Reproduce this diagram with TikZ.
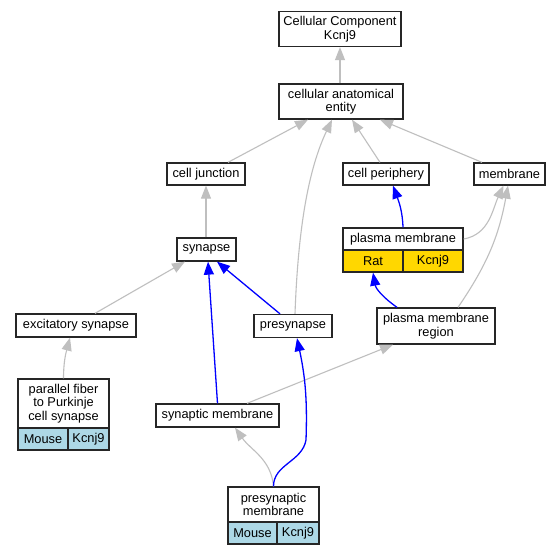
\documentclass[tikz,border=0pt]{standalone}
\usepackage{fontspec}
\setmainfont{Liberation Sans}
\usetikzlibrary{arrows.meta}

\definecolor{ratgold}{HTML}{FFD700}
\definecolor{mouseblue}{HTML}{ADD8E6}

\tikzset{
  term/.style={draw=black!85, line width=1.3pt, fill=white, inner sep=0pt,
    align=center, font=\fontsize{12.8}{13.5}\selectfont},
  ratcell/.style={term, fill=ratgold},
  mousecell/.style={term, fill=mouseblue},
  isa/.style={draw=black!25, line width=1.1pt, -{Triangle[length=13pt,width=10pt]}},
  partof/.style={draw=blue, line width=1.3pt, -{Triangle[length=13pt,width=10pt]}},
}

\begin{document}
\begin{tikzpicture}[x=1pt,y=-1pt]
\fill[white] (0,0) rectangle (560,555);
\useasboundingbox (0,0) rectangle (560,555);

% terms
\node[term, minimum width=122pt, minimum height=35pt] (cc) at (340,29) {Cellular Component\\Kcnj9};
\node[term, minimum width=124pt, minimum height=35pt] (cae) at (341,101.5) {cellular anatomical\\entity};
\node[term, minimum width=78pt, minimum height=22pt] (cj) at (206,174) {cell junction};
\node[term, minimum width=86pt, minimum height=22pt] (cp) at (386,174) {cell periphery};
\node[term, minimum width=71pt, minimum height=22pt] (mem) at (509.5,174) {membrane};
\node[term, minimum width=59pt, minimum height=23pt] (syn) at (206.5,249.5) {synapse};
\node[term, minimum width=78pt, minimum height=23pt] (ps) at (293,326) {presynapse};
\node[term, minimum width=118pt, minimum height=36pt] (pmr) at (436,326) {plasma membrane\\region};
\node[term, minimum width=120pt, minimum height=23pt] (exc) at (76,325.5) {excitatory synapse};
\node[term, minimum width=123pt, minimum height=23pt] (sm) at (217.5,415.5) {synaptic membrane};

% annotated terms
\node[term, minimum width=120pt, minimum height=22pt] (pm) at (403,239) {plasma membrane};
\node[ratcell, minimum width=60pt, minimum height=22pt] (pmrat) at (373,261) {Rat};
\node[ratcell, minimum width=60pt, minimum height=22pt] (pmgene) at (433,261) {Kcnj9};

\node[term, minimum width=91pt, minimum height=49pt] (pf) at (63.5,403.5) {parallel fiber\\to Purkinje\\cell synapse};
\node[mousecell, minimum width=50pt, minimum height=22pt] (pfmouse) at (43,439) {Mouse};
\node[mousecell, minimum width=41pt, minimum height=22pt] (pfgene) at (88.5,439) {Kcnj9};

\node[term, minimum width=91pt, minimum height=35pt] (prm) at (273.5,504.5) {presynaptic\\membrane};
\node[mousecell, minimum width=49pt, minimum height=22pt] (prmmouse) at (252.5,533) {Mouse};
\node[mousecell, minimum width=42pt, minimum height=22pt] (prmgene) at (298,533) {Kcnj9};

% is_a
\draw[isa] (cae.north -| cc.south) -- (cc.south);
\draw[isa] ([xshift=22pt]cj.north) -- ([xshift=-33pt]cae.south);
\draw[isa] ([xshift=2pt]ps.north) .. controls (298,230) and (308,170) .. ([xshift=-9pt]cae.south);
\draw[isa] ([xshift=-6pt]cp.north) -- ([xshift=11pt]cae.south);
\draw[isa] ([xshift=-27.5pt]mem.north) -- ([xshift=39pt]cae.south);
\draw[isa] (syn.north -| cj.south) -- (cj.south);
\draw[isa] ([xshift=19pt]exc.north) -- ([xshift=-21.5pt]syn.south);
\draw[isa] (pm.east) to[out=10,in=-115] ([xshift=-6pt]mem.south);
\draw[isa] ([xshift=22pt]pmr.north) to[bend right=12] ([xshift=-1.5pt]mem.south);
\draw[isa] (pf.north) to[out=90,in=-105] ([xshift=-6pt]exc.south);
\draw[isa] ([xshift=29.5pt]sm.north) -- ([xshift=-43pt]pmr.south);
\draw[isa] (prm.north) to[out=95,in=-55] ([xshift=17.5pt]sm.south);

% part_of
\coordinate (psbend) at (306,440);
\draw[partof] ([xshift=-13pt]ps.north) -- ([xshift=10.5pt]syn.south);
\draw[partof] (sm.north) -- ([xshift=1.5pt]syn.south);
\draw[partof] (pm.north) to[out=92,in=-70] ([xshift=7pt]cp.south);
\draw[partof] ([xshift=-39pt]pmr.north) to[out=145,in=-80] (pmrat.south);
\draw[partof] (prm.north) to[out=90,in=-100] (psbend) to[out=88,in=-78] ([xshift=4pt]ps.south);
\end{tikzpicture}
\end{document}
